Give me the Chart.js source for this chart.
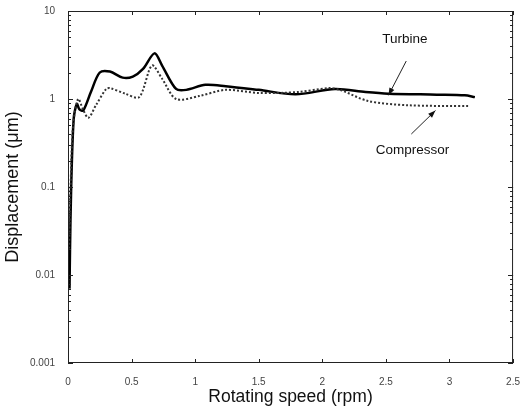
<!DOCTYPE html>
<html>
<head>
<meta charset="utf-8">
<script src="https://cdn.jsdelivr.net/npm/chart.js@4"></script>
<style>
  body { margin: 0; background: #fff; }
  #wrap { width: 525px; height: 410px; }
</style>
</head>
<body>
<div id="wrap"><canvas id="chart" width="525" height="410"></canvas></div>
<script>
// rotating speed (rpm) and displacement (um)
const turbineSpeed = [0.012, 0.016, 0.025, 0.045, 0.07, 0.09, 0.12, 0.18, 0.25, 0.33, 0.43, 0.51, 0.59, 0.68, 0.74, 0.85, 0.93, 1.08, 1.24, 1.5, 1.79, 2.1, 2.34, 2.52, 2.9, 3.12, 3.2];
const turbineDisp  = [0.007, 0.02, 0.1, 0.6, 0.88, 0.76, 0.74, 1.2, 2.0, 2.05, 1.75, 1.8, 2.2, 3.3, 2.4, 1.3, 1.27, 1.45, 1.4, 1.27, 1.13, 1.3, 1.2, 1.15, 1.12, 1.1, 1.05];

const compSpeed = [0.008, 0.02, 0.04, 0.08, 0.12, 0.16, 0.22, 0.3, 0.33, 0.45, 0.56, 0.66, 0.74, 0.85, 1.03, 1.24, 1.5, 1.81, 2.05, 2.14, 2.36, 2.67, 3.16];
const compDisp  = [0.02, 0.1, 0.5, 1.0, 0.75, 0.61, 0.85, 1.3, 1.33, 1.15, 1.05, 2.4, 1.7, 1.0, 1.08, 1.27, 1.17, 1.2, 1.33, 1.27, 0.95, 0.85, 0.83];

const xTickValues = [0, 0.5, 1, 1.5, 2, 2.5, 3, 3.5];
const xTickLabels = ['0', '0.5', '1', '1.5', '2', '2.5', '3', '2.5'];
const yTickValues = [0.001, 0.01, 0.1, 1, 10];
const yTickLabels = ['0.001', '0.01', '0.1', '1', '10'];

// annotation labels: [text, textX, textY, arrowFromX, arrowFromY, arrowToX, arrowToY]
const notes = [
  ['Turbine', 2.65, 4.8, 2.66, 2.7, 2.52, 1.1],
  ['Compressor', 2.71, 0.26, 2.70, 0.40, 2.89, 0.74]
];

const toPoints = (xs, ys) => xs.map((x, i) => ({ x: x, y: ys[i] }));

const framePlugin = {
  id: 'frame',
  afterDatasetsDraw(chart) {
    const { ctx, chartArea: a, scales } = chart;
    const xs = scales.x, ys = scales.y;
    ctx.save();
    ctx.strokeStyle = '#222';
    ctx.lineWidth = 1;
    ctx.strokeRect(a.left + 0.5, a.top + 0.5, a.right - a.left - 1, a.bottom - a.top - 1);
    ctx.beginPath();
    // x ticks, inward top and bottom
    xTickValues.forEach(v => {
      const px = Math.round(xs.getPixelForValue(v)) + 0.5;
      ctx.moveTo(px, a.bottom); ctx.lineTo(px, a.bottom - 4);
      ctx.moveTo(px, a.top); ctx.lineTo(px, a.top + 4);
    });
    // y major and minor ticks, inward left and right
    for (let d = 0.001; d < 10; d *= 10) {
      for (let m = 1; m <= 10; m++) {
        const v = d * m;
        const py = Math.round(ys.getPixelForValue(v)) + 0.5;
        const len = (m === 1 || m === 10) ? 5 : 3;
        ctx.moveTo(a.left, py); ctx.lineTo(a.left + len, py);
        ctx.moveTo(a.right, py); ctx.lineTo(a.right - len, py);
      }
    }
    ctx.stroke();

    // annotations
    ctx.fillStyle = '#111';
    ctx.font = '13.5px "Liberation Sans", Arial, sans-serif';
    ctx.textAlign = 'center';
    ctx.textBaseline = 'middle';
    notes.forEach(n => {
      ctx.fillText(n[0], xs.getPixelForValue(n[1]), ys.getPixelForValue(n[2]));
      const x1 = xs.getPixelForValue(n[3]), y1 = ys.getPixelForValue(n[4]);
      const x2 = xs.getPixelForValue(n[5]), y2 = ys.getPixelForValue(n[6]);
      ctx.beginPath();
      ctx.moveTo(x1, y1); ctx.lineTo(x2, y2);
      ctx.stroke();
      const ang = Math.atan2(y2 - y1, x2 - x1);
      ctx.beginPath();
      ctx.moveTo(x2, y2);
      ctx.lineTo(x2 - 8 * Math.cos(ang - 0.35), y2 - 8 * Math.sin(ang - 0.35));
      ctx.lineTo(x2 - 8 * Math.cos(ang + 0.35), y2 - 8 * Math.sin(ang + 0.35));
      ctx.closePath();
      ctx.fill();
    });
    ctx.restore();
  }
};

new Chart(document.getElementById('chart'), {
  type: 'scatter',
  data: {
    datasets: [
      {
        label: 'Compressor',
        data: toPoints(compSpeed, compDisp),
        showLine: true,
        borderColor: '#333',
        borderWidth: 2,
        borderDash: [2, 2],
        pointRadius: 0,
        tension: 0.3
      },
      {
        label: 'Turbine',
        data: toPoints(turbineSpeed, turbineDisp),
        showLine: true,
        borderColor: '#000',
        borderWidth: 2.5,
        pointRadius: 0,
        tension: 0.3
      }
    ]
  },
  options: {
    responsive: false,
    animation: false,
    layout: { padding: { top: 11, right: 11, left: 0, bottom: 0 } },
    plugins: {
      legend: { display: false },
      tooltip: { enabled: false }
    },
    scales: {
      x: {
        type: 'linear',
        min: 0,
        max: 3.5,
        afterBuildTicks: s => { s.ticks = xTickValues.map(v => ({ value: v })); },
        afterFit: s => { s.height = 47; },
        grid: { display: false },
        border: { display: false },
        ticks: {
          color: '#444',
          font: { family: '"Liberation Sans", Arial, sans-serif', size: 10 },
          padding: 5,
          maxRotation: 0,
          callback: (v, i) => xTickLabels[i]
        },
        title: {
          display: true,
          text: 'Rotating speed (rpm)',
          color: '#111',
          font: { family: '"Liberation Sans", Arial, sans-serif', size: 17.5 },
          padding: { top: 0, bottom: 2 }
        }
      },
      y: {
        type: 'logarithmic',
        min: 0.001,
        max: 10,
        afterBuildTicks: s => { s.ticks = yTickValues.map(v => ({ value: v })); },
        afterFit: s => { s.width = 68; },
        grid: { display: false },
        border: { display: false },
        ticks: {
          color: '#444',
          font: { family: '"Liberation Sans", Arial, sans-serif', size: 10 },
          padding: 5,
          callback: (v, i) => yTickLabels[i]
        },
        title: {
          display: true,
          text: 'Displacement (μm)',
          color: '#111',
          font: { family: '"Liberation Sans", Arial, sans-serif', size: 18 },
          padding: { top: 2, bottom: 0 }
        }
      }
    }
  },
  plugins: [framePlugin]
});
</script>
</body>
</html>
